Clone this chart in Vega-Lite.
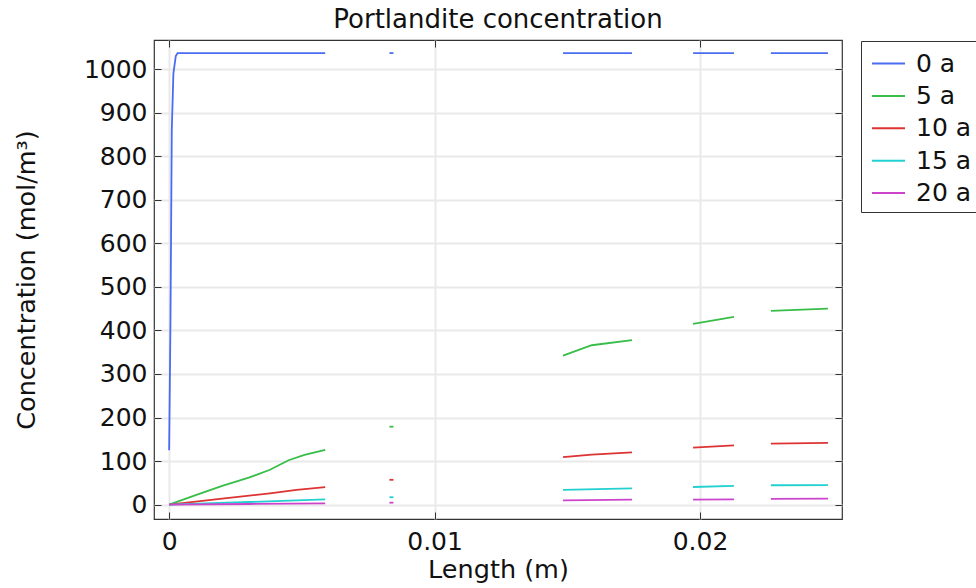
{
  "$schema": "https://vega.github.io/schema/vega-lite/v6.json",
  "autosize": "none",
  "width": 688,
  "height": 479,
  "padding": {"left": 154, "top": 40, "right": 134, "bottom": 69},
  "background": "white",
  "config": {
    "font": "DejaVu Sans",
    "view": {"stroke": "#333", "strokeWidth": 1.2},
    "axis": {"labelFont": "DejaVu Sans", "titleFont": "DejaVu Sans", "labelFontSize": 25, "titleFontSize": 25.5, "titleFontWeight": "normal", "labelColor": "#111", "titleColor": "#111", "tickColor": "#333", "domainColor": "#333", "gridColor": "#e9e9e9", "gridWidth": 2}
  },
  "title": {"text": "Portlandite concentration", "fontSize": 26, "fontWeight": "normal", "font": "DejaVu Sans", "color": "#111", "anchor": "middle", "offset": 7},
  "data": {"values": [
    {"x": 0, "c": 125, "series": "0 a", "seg": 1},
    {"x": 0.00005, "c": 420, "series": "0 a", "seg": 1},
    {"x": 0.0001, "c": 860, "series": "0 a", "seg": 1},
    {"x": 0.00016, "c": 990, "series": "0 a", "seg": 1},
    {"x": 0.00025, "c": 1030, "series": "0 a", "seg": 1},
    {"x": 0.00032, "c": 1037, "series": "0 a", "seg": 1},
    {"x": 0.00588, "c": 1037, "series": "0 a", "seg": 1},
    {"x": 0.0083, "c": 1037, "series": "0 a", "seg": 2},
    {"x": 0.00845, "c": 1037, "series": "0 a", "seg": 2},
    {"x": 0.01484, "c": 1037, "series": "0 a", "seg": 3},
    {"x": 0.01744, "c": 1037, "series": "0 a", "seg": 3},
    {"x": 0.01974, "c": 1037, "series": "0 a", "seg": 4},
    {"x": 0.02128, "c": 1037, "series": "0 a", "seg": 4},
    {"x": 0.02267, "c": 1037, "series": "0 a", "seg": 5},
    {"x": 0.02482, "c": 1037, "series": "0 a", "seg": 5},

    {"x": 0, "c": 0, "series": "5 a", "seg": 1},
    {"x": 0.001, "c": 22, "series": "5 a", "seg": 1},
    {"x": 0.002, "c": 43, "series": "5 a", "seg": 1},
    {"x": 0.003, "c": 62, "series": "5 a", "seg": 1},
    {"x": 0.0038, "c": 80, "series": "5 a", "seg": 1},
    {"x": 0.0045, "c": 102, "series": "5 a", "seg": 1},
    {"x": 0.0051, "c": 114, "series": "5 a", "seg": 1},
    {"x": 0.00588, "c": 126, "series": "5 a", "seg": 1},
    {"x": 0.0083, "c": 179, "series": "5 a", "seg": 2},
    {"x": 0.00845, "c": 179, "series": "5 a", "seg": 2},
    {"x": 0.01484, "c": 342, "series": "5 a", "seg": 3},
    {"x": 0.01592, "c": 366, "series": "5 a", "seg": 3},
    {"x": 0.01744, "c": 378, "series": "5 a", "seg": 3},
    {"x": 0.01974, "c": 415, "series": "5 a", "seg": 4},
    {"x": 0.02128, "c": 431, "series": "5 a", "seg": 4},
    {"x": 0.02267, "c": 445, "series": "5 a", "seg": 5},
    {"x": 0.02482, "c": 450, "series": "5 a", "seg": 5},

    {"x": 0, "c": 0, "series": "10 a", "seg": 1},
    {"x": 0.002, "c": 14, "series": "10 a", "seg": 1},
    {"x": 0.0038, "c": 26, "series": "10 a", "seg": 1},
    {"x": 0.0048, "c": 34, "series": "10 a", "seg": 1},
    {"x": 0.00588, "c": 40, "series": "10 a", "seg": 1},
    {"x": 0.0083, "c": 57, "series": "10 a", "seg": 2},
    {"x": 0.00845, "c": 57, "series": "10 a", "seg": 2},
    {"x": 0.01484, "c": 109, "series": "10 a", "seg": 3},
    {"x": 0.01592, "c": 115, "series": "10 a", "seg": 3},
    {"x": 0.01744, "c": 120, "series": "10 a", "seg": 3},
    {"x": 0.01974, "c": 131, "series": "10 a", "seg": 4},
    {"x": 0.02128, "c": 136, "series": "10 a", "seg": 4},
    {"x": 0.02267, "c": 140, "series": "10 a", "seg": 5},
    {"x": 0.02482, "c": 142, "series": "10 a", "seg": 5},

    {"x": 0, "c": 0, "series": "15 a", "seg": 1},
    {"x": 0.003, "c": 6, "series": "15 a", "seg": 1},
    {"x": 0.00588, "c": 12, "series": "15 a", "seg": 1},
    {"x": 0.0083, "c": 17, "series": "15 a", "seg": 2},
    {"x": 0.00845, "c": 17, "series": "15 a", "seg": 2},
    {"x": 0.01484, "c": 34, "series": "15 a", "seg": 3},
    {"x": 0.01744, "c": 37.5, "series": "15 a", "seg": 3},
    {"x": 0.01974, "c": 40.5, "series": "15 a", "seg": 4},
    {"x": 0.02128, "c": 43, "series": "15 a", "seg": 4},
    {"x": 0.02267, "c": 44.5, "series": "15 a", "seg": 5},
    {"x": 0.02482, "c": 45, "series": "15 a", "seg": 5},

    {"x": 0, "c": 0, "series": "20 a", "seg": 1},
    {"x": 0.003, "c": 1.5, "series": "20 a", "seg": 1},
    {"x": 0.00588, "c": 3, "series": "20 a", "seg": 1},
    {"x": 0.0083, "c": 4.5, "series": "20 a", "seg": 2},
    {"x": 0.00845, "c": 4.5, "series": "20 a", "seg": 2},
    {"x": 0.01484, "c": 10, "series": "20 a", "seg": 3},
    {"x": 0.01744, "c": 11.5, "series": "20 a", "seg": 3},
    {"x": 0.01974, "c": 11.5, "series": "20 a", "seg": 4},
    {"x": 0.02128, "c": 12, "series": "20 a", "seg": 4},
    {"x": 0.02267, "c": 13, "series": "20 a", "seg": 5},
    {"x": 0.02482, "c": 13.8, "series": "20 a", "seg": 5}
  ]},
  "layer": [
    {
      "mark": {"type": "line", "strokeWidth": 1.8, "clip": true},
      "encoding": {
        "x": {"field": "x", "type": "quantitative", "scale": {"domain": [-0.00057, 0.02535], "nice": false, "zero": false},
          "axis": {"values": [0, 0.01, 0.02], "labelExpr": "datum.value == 0 ? '0' : format(datum.value, '.2f')", "title": "Length (m)", "tickSize": -7, "labelPadding": 17, "titlePadding": 3, "domain": false, "labelFlush": false}},
        "y": {"field": "c", "type": "quantitative", "scale": {"domain": [-33, 1067], "nice": false, "zero": false},
          "axis": {"values": [0, 100, 200, 300, 400, 500, 600, 700, 800, 900, 1000], "format": "d", "title": "Concentration (mol/m³)", "tickSize": -7, "labelPadding": 14, "titlePadding": 44, "domain": false}},
        "color": {"field": "series", "type": "nominal",
          "scale": {"domain": ["0 a", "5 a", "10 a", "15 a", "20 a"], "range": ["#4a6cf2", "#38bd48", "#dd3333", "#22d0d0", "#cc44cc"]},
          "legend": {"title": null, "orient": "none", "legendX": 707, "legendY": 1, "symbolType": "stroke", "symbolSize": 1089, "symbolStrokeWidth": 2, "symbolOffset": 5, "labelFontSize": 25, "labelFont": "DejaVu Sans", "labelColor": "#111", "labelOffset": 10, "rowPadding": 1.4, "padding": 5, "strokeColor": "#333", "fillColor": "white", "cornerRadius": 0}},
        "detail": {"field": "seg", "type": "nominal"}
      }
    },
    {
      "mark": {"type": "line", "opacity": 0},
      "encoding": {
        "x": {"field": "x", "type": "quantitative", "axis": {"orient": "top", "values": [0, 0.01, 0.02], "labels": false, "title": null, "grid": false, "domain": false, "tickSize": -7}},
        "y": {"field": "c", "type": "quantitative", "axis": {"orient": "right", "values": [0, 100, 200, 300, 400, 500, 600, 700, 800, 900, 1000], "labels": false, "title": null, "grid": false, "domain": false, "tickSize": -7}},
        "detail": {"field": "seg", "type": "nominal"}
      }
    }
  ],
  "resolve": {"axis": {"x": "independent", "y": "independent"}}
}
